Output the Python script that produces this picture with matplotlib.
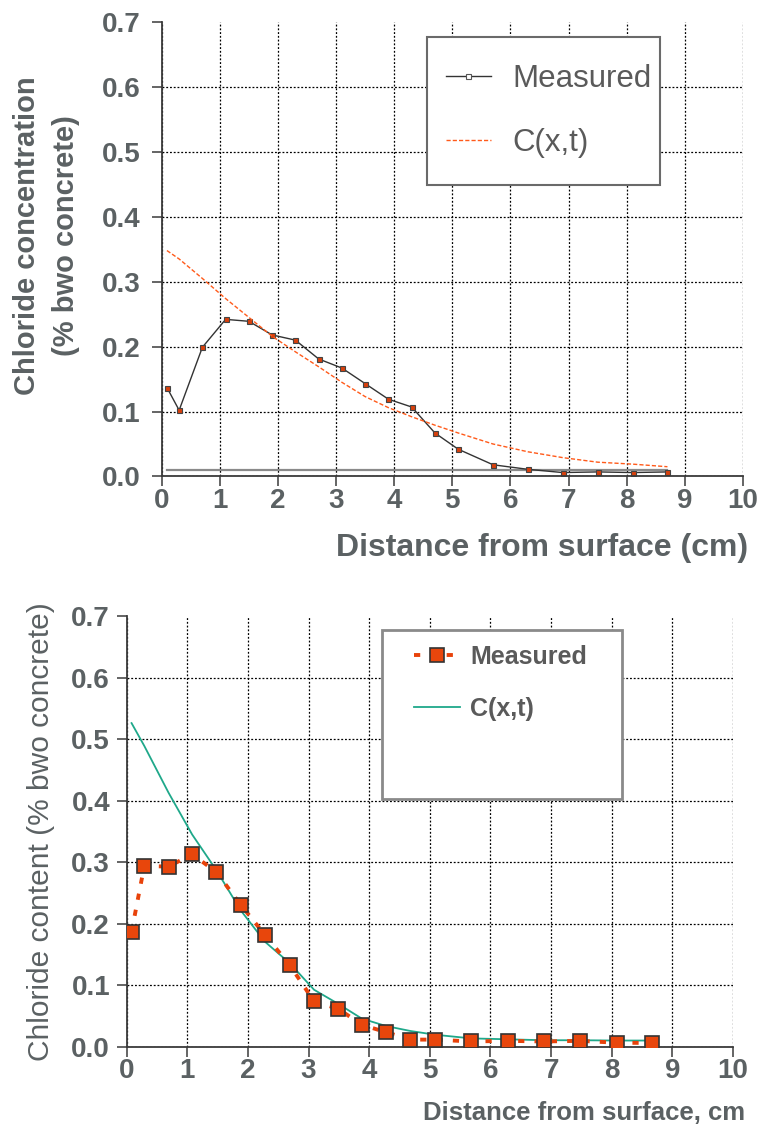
import matplotlib
matplotlib.use("Agg")
import matplotlib.pyplot as plt
from matplotlib.patches import Rectangle

plt.rcParams['font.family'] = ['Liberation Sans', 'DejaVu Sans']

# ---- top chart data ----
x_top = [0.09, 0.3, 0.7, 1.1, 1.5, 1.9, 2.3, 2.7, 3.1, 3.5, 3.9, 4.3, 4.7,
         5.1, 5.7, 6.3, 6.9, 7.5, 8.1, 8.7]
meas_top = [0.137, 0.102, 0.199, 0.242, 0.239, 0.218, 0.210, 0.181, 0.167,
            0.143, 0.119, 0.107, 0.067, 0.042, 0.018, 0.011, 0.006, 0.007,
            0.006, 0.007]
fit_top = [0.348, 0.335, 0.305, 0.274, 0.245, 0.216, 0.192, 0.169, 0.145,
           0.123, 0.106, 0.092, 0.079, 0.067, 0.050, 0.038, 0.029, 0.022,
           0.019, 0.015]
base_x = [0.09, 8.7]
base_y = [0.01, 0.01]

# ---- bottom chart data ----
x_bot = [0.08, 0.29, 0.69, 1.08, 1.48, 1.88, 2.28, 2.69, 3.09, 3.49, 3.88,
         4.28, 4.68, 5.08, 5.68, 6.29, 6.88, 7.48, 8.08, 8.66]
meas_bot = [0.187, 0.294, 0.293, 0.313, 0.284, 0.231, 0.182, 0.133, 0.074,
            0.062, 0.036, 0.024, 0.012, 0.012, 0.009, 0.010, 0.009, 0.010,
            0.007, 0.0065]
fit_bot = [0.526, 0.489, 0.413, 0.345, 0.287, 0.222, 0.171, 0.136, 0.093,
           0.070, 0.046, 0.034, 0.026, 0.020, 0.014, 0.0125, 0.011, 0.011,
           0.0105, 0.0105]

xticks = list(range(0, 11))
yticks = [0.0, 0.1, 0.2, 0.3, 0.4, 0.5, 0.6, 0.7]
ytick_labels = ["%.1f" % v for v in yticks]

txt = '#5b6163'
spine = '#3a3a3a'

fig = plt.figure(figsize=(7.66, 11.24), dpi=100)
ax1 = fig.add_axes([0.2111, 0.5761, 0.7589, 0.4043])
ax2 = fig.add_axes([0.1654, 0.0685, 0.7915, 0.3835])

for ax in (ax1, ax2):
    ax.set_xlim(0, 10)
    ax.set_ylim(0, 0.7)
    ax.set_xticks(xticks)
    ax.set_yticks(yticks)
    ax.set_yticklabels(ytick_labels)
    ax.grid(True, color='black', linestyle=(0, (1.5, 1.5)), linewidth=0.9)
    ax.set_axisbelow(True)
    # no grid line along the top edge
    ax.get_ygridlines()[-1].set_visible(False)
    for s in ('top', 'right'):
        ax.spines[s].set_visible(False)
    for s in ('left', 'bottom'):
        ax.spines[s].set_color(spine)
        ax.spines[s].set_linewidth(1.3)
    ax.tick_params(axis='both', direction='out', length=7, width=1.1,
                   color=spine, labelcolor=txt, labelsize=20)
    ax.tick_params(axis='x', pad=1)
    for lab in ax.get_xticklabels() + ax.get_yticklabels():
        lab.set_fontweight('bold')

# ===== top chart =====
ax1.plot(base_x, base_y, color='#8a8a8a', linewidth=1.6)
ax1.plot(x_top, meas_top, color='#333333', linewidth=1.0, marker='s',
         markersize=3.6, markerfacecolor='#d8400c', markeredgecolor='#444444',
         markeredgewidth=0.8, label='Measured')
ax1.plot(x_top, fit_top, color='#ff5a1a', linewidth=1.0,
         linestyle=(0, (3, 1.5)), label='C(x,t)')
ax1.tick_params(axis='y', pad=8)
ax1.set_xlabel('Distance from surface (cm)', fontsize=23, fontweight='bold',
               color=txt, ha='right')
ax1.xaxis.set_label_coords(1.0086, -0.125)
ax1.set_ylabel('Chloride concentration\n(% bwo concrete)', fontsize=21,
               fontweight='bold', color=txt, linespacing=1.5)
ax1.yaxis.set_label_coords(-0.14, 0.53)

ax1.add_patch(Rectangle((0.4559, 0.6414), 0.4013, 0.3263,
                        transform=ax1.transAxes, facecolor='white',
                        edgecolor='#6a6a6a', linewidth=1.5, zorder=4))
h1, l1 = ax1.get_legend_handles_labels()
leg1 = ax1.legend(h1, l1, loc='upper left', bbox_to_anchor=(0.489, 0.9076),
                  fontsize=22.5, frameon=False, borderpad=0,
                  labelspacing=1.1, handlelength=1.44, handletextpad=0.7,
                  borderaxespad=0)
leg1.set_zorder(5)
for t in leg1.get_texts():
    t.set_color('#5a5a5a')
lh = leg1.get_lines()
lh[0].set_markerfacecolor('white')
lh[0].set_markeredgecolor('#555555')

# ===== bottom chart =====
ax2.plot(x_bot, meas_bot, color='#e8420a', linewidth=2.8,
         linestyle=(0, (1.6, 2.6)), marker='s', markersize=9.5,
         markerfacecolor='#e8460c', markeredgecolor='#333333',
         markeredgewidth=1.2, label='Measured', zorder=3)
ax2.plot(x_bot, fit_bot, color='#1fa88a', linewidth=1.3, label='C(x,t)',
         zorder=2)
ax2.tick_params(axis='y', pad=5)
ax2.set_xlabel('Distance from surface, cm', fontsize=18.5, fontweight='bold',
               color=txt, ha='right')
ax2.xaxis.set_label_coords(1.0198, -0.125)
ax2.set_ylabel('Chloride content (% bwo concrete)', fontsize=21.5,
               color=txt)
ax2.yaxis.set_label_coords(-0.118, 0.5)

ax2.add_patch(Rectangle((0.4206, 0.5747), 0.3958, 0.3916,
                        transform=ax2.transAxes, facecolor='white',
                        edgecolor='#8a8a8a', linewidth=2.0, zorder=4))
h2, l2 = ax2.get_legend_handles_labels()
leg2 = ax2.legend(h2, l2, loc='upper left', bbox_to_anchor=(0.4739, 0.9331),
                  frameon=False, borderpad=0, labelspacing=1.13,
                  handlelength=1.84, handletextpad=0.4, borderaxespad=0,
                  prop={'weight': 'bold', 'size': 18})
leg2.set_zorder(5)
for t in leg2.get_texts():
    t.set_color('#5a5a5a')

fig.savefig('out.png', dpi=100)
